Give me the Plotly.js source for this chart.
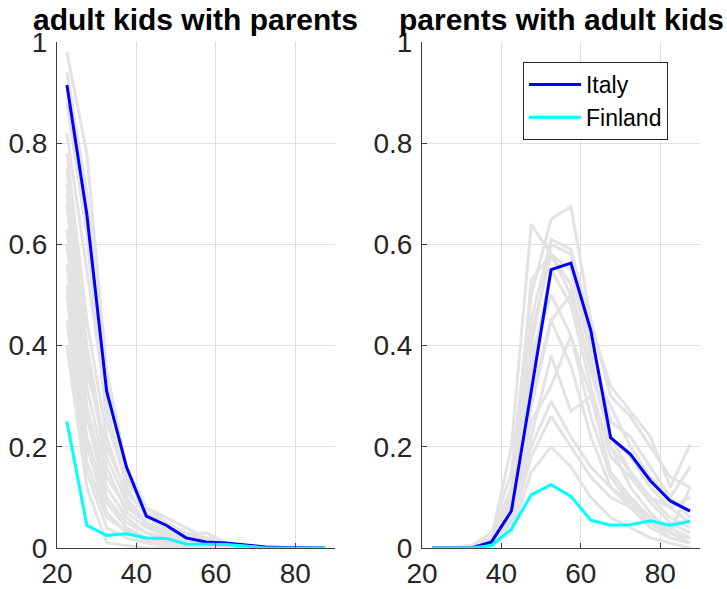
<!DOCTYPE html>
<html>
<head>
<meta charset="utf-8">
<script src="https://cdn.plot.ly/plotly-3.0.1.min.js"></script>
<style>html,body{margin:0;padding:0;background:#fff;}#chart{width:727px;height:589px;}</style>
</head>
<body>
<div id="chart"></div>
<script>
// Age group midpoints
const ages = [22.5,27.5,32.5,37.5,42.5,47.5,52.5,57.5,62.5,67.5,72.5,77.5,82.5,87.5];

// Left panel: adult kids living with parents
const kidsItaly   = [0.915,0.66,0.31,0.16,0.063,0.045,0.02,0.012,0.01,0.006,0.002,0.001,0,0];
const kidsFinland = [0.25,0.045,0.025,0.028,0.02,0.019,0.008,0.008,0.007,0.004,0,0,0,0];
const kidsOthers = [
  [0.98,0.78,0.35,0.16,0.08,0.05,0.03,0.02,0.01,0.005,0,0,0,0],
  [0.94,0.70,0.33,0.14,0.07,0.045,0.025,0.015,0.01,0.005,0,0,0,0],
  [0.88,0.62,0.25,0.13,0.08,0.06,0.04,0.02,0.01,0,0,0,0,0],
  [0.82,0.55,0.28,0.12,0.06,0.04,0.02,0.01,0.005,0,0,0,0,0],
  [0.78,0.45,0.22,0.10,0.05,0.03,0.015,0.01,0.005,0,0,0,0,0],
  [0.75,0.40,0.18,0.09,0.045,0.03,0.015,0.01,0,0,0,0,0,0],
  [0.72,0.38,0.16,0.07,0.04,0.025,0.01,0.005,0,0,0,0,0,0],
  [0.70,0.35,0.20,0.11,0.07,0.04,0.02,0.01,0.005,0,0,0,0,0],
  [0.68,0.32,0.14,0.08,0.05,0.035,0.025,0.03,0.01,0,0,0,0,0],
  [0.63,0.28,0.12,0.06,0.03,0.02,0.01,0.005,0,0,0,0,0,0],
  [0.60,0.26,0.10,0.05,0.03,0.015,0.01,0,0,0,0,0,0,0],
  [0.56,0.22,0.09,0.04,0.02,0.01,0.005,0,0,0,0,0,0,0],
  [0.52,0.20,0.07,0.03,0.015,0.01,0,0,0,0,0,0,0,0],
  [0.50,0.17,0.06,0.035,0.02,0.01,0.005,0,0,0,0,0,0,0],
  [0.45,0.15,0.04,0.02,0.01,0.005,0,0,0,0,0,0,0,0],
  [0.40,0.12,0.01,0.005,0,0,0,0,0,0,0,0,0,0]
];

// Right panel: parents living with adult kids
const parItaly   = [0,0,0,0.012,0.073,0.31,0.55,0.563,0.43,0.218,0.185,0.133,0.093,0.073];
const parFinland = [0,0,0,0.005,0.037,0.105,0.125,0.102,0.055,0.045,0.046,0.054,0.045,0.053];
const parOthers = [
  [0,0,0,0.02,0.20,0.64,0.58,0.50,0.36,0.28,0.20,0.14,0.10,0.06],
  [0,0,0.005,0.03,0.15,0.50,0.65,0.675,0.45,0.30,0.26,0.20,0.14,0.12],
  [0,0,0,0.02,0.12,0.45,0.61,0.59,0.44,0.32,0.27,0.22,0.12,0.205],
  [0,0,0,0.015,0.10,0.53,0.58,0.52,0.35,0.22,0.15,0.10,0.08,0.05],
  [0,0,0,0.01,0.08,0.40,0.60,0.58,0.40,0.25,0.22,0.16,0.10,0.16],
  [0,0,0,0.01,0.07,0.35,0.55,0.48,0.32,0.18,0.14,0.09,0.05,0.03],
  [0,0,0,0.01,0.06,0.30,0.45,0.50,0.35,0.22,0.18,0.12,0.08,0.10],
  [0,0,0,0.01,0.05,0.22,0.38,0.27,0.30,0.20,0.15,0.10,0.06,0.04],
  [0,0,0,0.005,0.05,0.20,0.29,0.22,0.16,0.12,0.09,0.05,0.03,0.02],
  [0,0,0,0.005,0.04,0.18,0.26,0.20,0.14,0.10,0.08,0.05,0.02,0.01],
  [0,0,0,0.01,0.06,0.25,0.32,0.42,0.30,0.15,0.10,0.06,0.04,0.02],
  [0,0,0,0.005,0.03,0.15,0.20,0.16,0.10,0.06,0.04,0.02,0.01,0],
  [0,0,0,0.01,0.05,0.28,0.45,0.36,0.22,0.12,0.08,0.04,0.02,0.01],
  [0,0,0,0.02,0.09,0.38,0.50,0.42,0.26,0.14,0.09,0.06,0.03,0.01],
  [0,0,0.005,0.02,0.10,0.42,0.58,0.55,0.38,0.20,0.12,0.07,0.03,0.12]
];

const titles = ['adult kids with parents', 'parents with adult kids'];
const xTicks = [20,40,60,80];
const yTicks = [0,0.2,0.4,0.6,0.8,1];

const gray = '#e3e3e3';
const traces = [];
function addGray(list, xa, ya) {
  list.forEach(v => traces.push({x: ages, y: v, xaxis: xa, yaxis: ya, type: 'scatter', mode: 'lines',
    line: {color: gray, width: 3}, showlegend: false, hoverinfo: 'skip'}));
}
addGray(kidsOthers, 'x', 'y');
addGray(parOthers, 'x2', 'y2');
traces.push({x: ages, y: kidsItaly, xaxis: 'x', yaxis: 'y', mode: 'lines', line: {color: '#0000ff', width: 3}, name: 'Italy', showlegend: false});
traces.push({x: ages, y: kidsFinland, xaxis: 'x', yaxis: 'y', mode: 'lines', line: {color: '#00ffff', width: 3}, name: 'Finland', showlegend: false});
traces.push({x: ages, y: parItaly, xaxis: 'x2', yaxis: 'y2', mode: 'lines', line: {color: '#0000ff', width: 3}, name: 'Italy'});
traces.push({x: ages, y: parFinland, xaxis: 'x2', yaxis: 'y2', mode: 'lines', line: {color: '#00ffff', width: 3}, name: 'Finland'});

const fam = '"Liberation Sans", Arial, Helvetica, sans-serif';
const font = {family: fam, size: 28, color: '#262626'};
function xax(dom, anchor) {
  return {domain: dom, anchor: anchor, range: [20, 90], tickvals: xTicks, ticks: 'inside', ticklen: 5,
    tickcolor: '#404040', showline: true, linecolor: '#404040', linewidth: 1, showgrid: true,
    gridcolor: '#dfdfdf', gridwidth: 1, zeroline: false, tickfont: font, mirror: false};
}
function yax(anchor) {
  return {anchor: anchor, range: [0, 1], tickvals: yTicks, ticks: 'inside', ticklen: 5,
    tickcolor: '#404040', showline: true, linecolor: '#404040', linewidth: 1, showgrid: true,
    gridcolor: '#dfdfdf', gridwidth: 1, zeroline: false, tickfont: font, domain: [0, 1],
    ticklabelstandoff: 3};
}
const layout = {
  width: 727, height: 589,
  margin: {l: 57, r: 27, t: 42, b: 41},
  paper_bgcolor: '#ffffff', plot_bgcolor: '#ffffff',
  font: font,
  xaxis: xax([0, 0.4323], 'y'),
  yaxis: yax('x'),
  xaxis2: xax([0.5677, 1], 'y2'),
  yaxis2: yax('x2'),
  showlegend: true,
  legend: {x: 0.7247, y: 0.9605, xanchor: 'left', yanchor: 'top', bgcolor: '#ffffff',
    bordercolor: '#262626', borderwidth: 1, font: {family: fam, size: 23, color: '#000'},
    tracegroupgap: 0, itemwidth: 52},
  annotations: [
    {text: '<b>' + titles[0] + '</b>', xref: 'paper', yref: 'paper', x: 0.2161, y: 1, xanchor: 'center', yanchor: 'bottom', yshift: 4,
      showarrow: false, font: {family: fam, size: 30, color: '#000'}},
    {text: '<b>' + titles[1] + '</b>', xref: 'paper', yref: 'paper', x: 0.7839, y: 1, xanchor: 'center', yanchor: 'bottom', yshift: 4,
      showarrow: false, font: {family: fam, size: 30, color: '#000'}}
  ]
};
Plotly.newPlot('chart', traces, layout, {displayModeBar: false, staticPlot: true});
</script>
</body>
</html>
